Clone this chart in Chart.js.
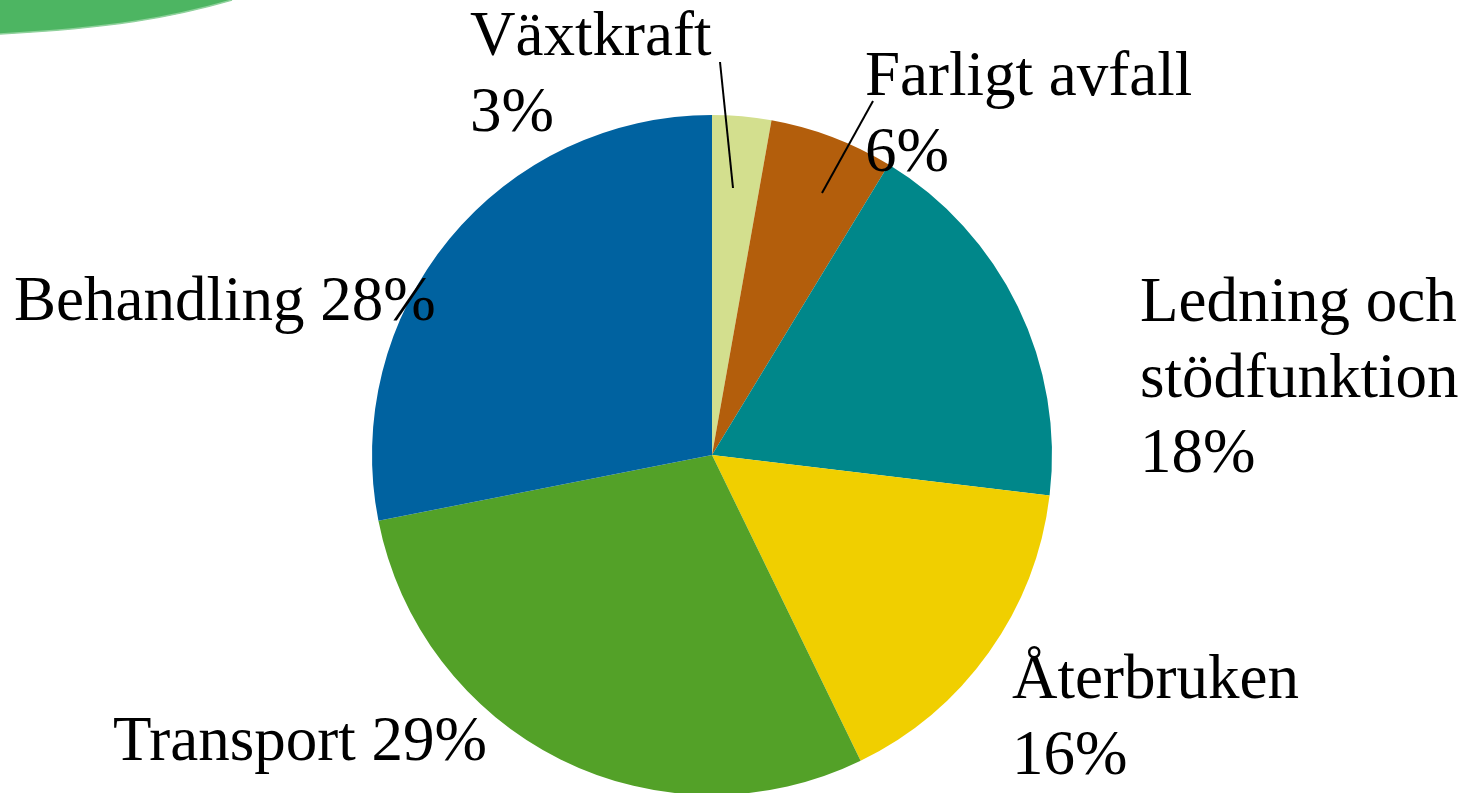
<!DOCTYPE html>
<html>
<head>
<meta charset="utf-8">
<script src="https://cdn.jsdelivr.net/npm/chart.js@4/dist/chart.umd.min.js"></script>
<style>
  html, body { margin: 0; padding: 0; background: #fff; overflow: hidden; }
  #wrap { position: relative; width: 1468px; height: 800px; }
</style>
</head>
<body>
<div id="wrap"><canvas id="pieChart"></canvas></div>
<script>
const categories = ['Växtkraft', 'Farligt avfall', 'Ledning och stödfunktion', 'Återbruken', 'Transport', 'Behandling'];
const shares = [2.8, 5.9, 18.2, 15.9, 29.1, 28.1];
const sliceColors = ['#d3df8e', '#b35e0c', '#00878a', '#f0cf00', '#53a128', '#0062a0'];

// label text lines and where they sit relative to the pie centre
const labelLayout = [
    { lines: ['Växtkraft', '%'], dx: -242, dy: -400, leader: [[8, -393], [21, -267]] },
    { lines: ['Farligt avfall', '%'], dx: 153, dy: -360, leader: [[161, -354], [110, -262]] },
    { lines: ['Ledning och', 'stödfunktion', '%'], dx: 428, dy: -134 },
    { lines: ['Återbruken', '%'], dx: 300, dy: 243 },
    { lines: ['Transport %'], dx: -599, dy: 305 },
    { lines: ['Behandling %'], dx: -698, dy: -135 }
];

const cornerShape = {
    id: 'cornerShape',
    beforeDraw(chart) {
        const c = chart.ctx;
        c.save();
        c.fillStyle = '#4db562';
        c.beginPath();
        c.moveTo(0, 0);
        c.lineTo(232, 0);
        c.bezierCurveTo(170, 18, 110, 28, 0, 34);
        c.closePath();
        c.fill();
        c.strokeStyle = '#8fd19c';
        c.lineWidth = 1.5;
        c.beginPath();
        c.moveTo(232, 0);
        c.bezierCurveTo(170, 18, 110, 28, 0, 34);
        c.stroke();
        c.restore();
    }
};

const sliceLabels = {
    id: 'sliceLabels',
    afterDraw(chart) {
        const c = chart.ctx;
        const arc = chart.getDatasetMeta(0).data[0];
        const cx = arc.x, cy = arc.y;
        c.save();
        c.fillStyle = '#000';
        c.font = '63px "Liberation Serif", "Times New Roman", serif';
        c.textBaseline = 'alphabetic';
        c.textAlign = 'left';
        labelLayout.forEach((lab, i) => {
            const pct = Math.round(shares[i]) + '%';
            lab.lines.forEach((ln, j) => {
                c.fillText(ln.replace('%', pct), cx + lab.dx, cy + lab.dy + j * 75.5);
            });
            if (lab.leader) {
                c.strokeStyle = '#000';
                c.lineWidth = 2;
                c.beginPath();
                c.moveTo(cx + lab.leader[0][0], cy + lab.leader[0][1]);
                c.lineTo(cx + lab.leader[1][0], cy + lab.leader[1][1]);
                c.stroke();
            }
        });
        c.restore();
    }
};

new Chart(document.getElementById('pieChart'), {
    type: 'pie',
    data: {
        labels: categories,
        datasets: [{
            data: shares,
            backgroundColor: sliceColors,
            borderWidth: 0
        }]
    },
    options: {
        responsive: true,
        maintainAspectRatio: false,
        animation: false,
        layout: { padding: { top: 115, bottom: 5, left: 372, right: 416 } },
        plugins: {
            legend: { display: false },
            tooltip: { enabled: false }
        }
    },
    plugins: [cornerShape, sliceLabels]
});
</script>
</body>
</html>
